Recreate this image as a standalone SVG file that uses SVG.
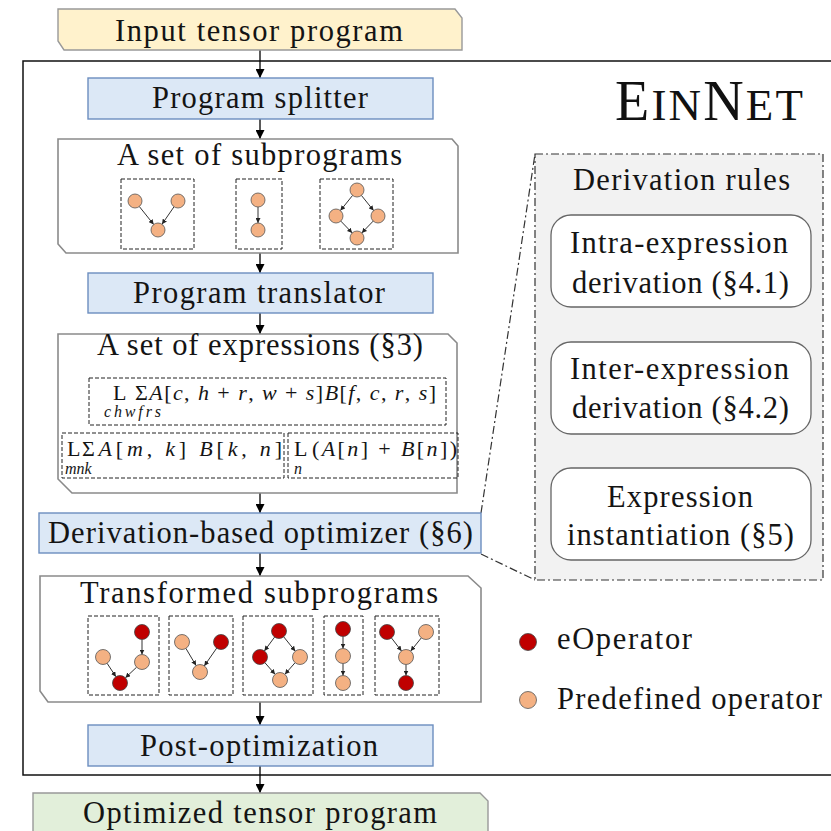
<svg xmlns="http://www.w3.org/2000/svg" width="831" height="831" viewBox="0 0 831 831" font-family="Liberation Serif, serif">
<style>
.t{font-size:30.5px;fill:#141414}
.m{font-size:22px;fill:#141414}
.ms{font-size:16px;font-style:italic;fill:#141414}
.i{font-style:italic}
.cont{fill:#fff;stroke:#8a8a8a;stroke-width:1.6}
.blue{fill:#dce8f6;stroke:#6c8ebf;stroke-width:1.4}
.dash{fill:none;stroke:#222;stroke-width:1;stroke-dasharray:4 2}
.po{fill:#f4b183;stroke:#555;stroke-width:0.8}
.eo{fill:#c00000;stroke:#444;stroke-width:0.8}
.e{stroke:#333;stroke-width:1;fill:none;marker-end:url(#sa)}
.flow{stroke:#000;stroke-width:1.3;fill:none;marker-end:url(#ba)}
.dd{stroke:#333;stroke-width:1.2;fill:none;stroke-dasharray:8 3 2 3}
.rule{fill:#fff;stroke:#666;stroke-width:1.3}
</style>
<defs>
<marker id="ba" viewBox="0 0 10 10" refX="10" refY="5" markerWidth="9" markerHeight="9" markerUnits="userSpaceOnUse" orient="auto"><path d="M0,0 L10,5 L0,10 z" fill="#000"/></marker>
<marker id="sa" viewBox="0 0 10 10" refX="10" refY="5" markerWidth="5" markerHeight="5" markerUnits="userSpaceOnUse" orient="auto"><path d="M0,0 L10,5 L0,10 z" fill="#222"/></marker>
</defs>

<g id="frame"><rect x="23" y="61" width="830" height="714" fill="none" stroke="#111" stroke-width="1.5"/></g>

<g id="einnet"><text x="615" y="120" font-family="Liberation Serif, serif" fill="#111" textLength="188"><tspan font-size="56">E</tspan><tspan font-size="45">IN</tspan><tspan font-size="56">N</tspan><tspan font-size="45">ET</tspan></text></g>

<g id="connectors">
<line class="flow" x1="260" y1="50" x2="260" y2="78"/>
<line class="flow" x1="260" y1="119" x2="260" y2="139"/>
<line class="flow" x1="260" y1="253" x2="260" y2="273"/>
<line class="flow" x1="260" y1="313" x2="260" y2="334"/>
<line class="flow" x1="260" y1="493" x2="260" y2="513"/>
<line class="flow" x1="260" y1="553" x2="260" y2="576"/>
<line class="flow" x1="260" y1="702" x2="260" y2="725"/>
<line class="flow" x1="260" y1="766" x2="260" y2="793"/>
<line class="dd" x1="481" y1="513" x2="535" y2="154"/>
<line class="dd" x1="481" y1="554" x2="535" y2="580"/>
</g>

<g id="input">
<polygon points="58,9 455,9 462,18 462,50 64,50 58,41" fill="#fff2cc" stroke="#999" stroke-width="1.4"/>
<text class="t" x="115" y="41" textLength="288">Input tensor program</text>
</g>

<g id="splitter">
<rect class="blue" x="88" y="78" width="345" height="41"/>
<text class="t" x="152" y="108" textLength="216">Program splitter</text>
</g>

<g id="subprograms">
<polygon class="cont" points="58,139 452,139 458,146 458,253 66,253 58,244"/>
<text class="t" x="117" y="165" textLength="285">A set of subprograms</text>
<rect class="dash" x="121" y="179" width="73" height="70"/>
<rect class="dash" x="236" y="179" width="46" height="70"/>
<rect class="dash" x="320" y="179" width="73" height="70"/>
<line class="e" x1="139.3" y1="206.5" x2="153.7" y2="224.5"/>
<line class="e" x1="174" y1="206.8" x2="162" y2="224.2"/>
<line class="e" x1="258" y1="207" x2="258" y2="223"/>
<line class="e" x1="352.6" y1="195.4" x2="340.4" y2="210.6"/>
<line class="e" x1="361.4" y1="195.4" x2="373.6" y2="210.6"/>
<line class="e" x1="340.8" y1="221.1" x2="352.2" y2="232.9"/>
<line class="e" x1="373.2" y1="221.1" x2="361.8" y2="232.9"/>
<circle class="po" cx="135" cy="201" r="7"/>
<circle class="po" cx="178" cy="201" r="7"/>
<circle class="po" cx="158" cy="230" r="7"/>
<circle class="po" cx="258" cy="200" r="7"/>
<circle class="po" cx="258" cy="230" r="7"/>
<circle class="po" cx="357" cy="190" r="7"/>
<circle class="po" cx="336" cy="216" r="7"/>
<circle class="po" cx="378" cy="216" r="7"/>
<circle class="po" cx="357" cy="238" r="7"/>
</g>

<g id="translator">
<rect class="blue" x="88" y="273" width="345" height="40"/>
<text class="t" x="133" y="303" textLength="252">Program translator</text>
</g>

<g id="expressions">
<polygon class="cont" points="58,334 448,334 457,343 457,493 72,493 58,479"/>
<text class="t" x="97" y="355" textLength="326">A set of expressions (§3)</text>
<rect class="dash" x="89" y="378" width="357" height="47"/>
<rect class="dash" x="62" y="433" width="222" height="45"/>
<rect class="dash" x="288" y="433" width="170" height="45"/>
<text class="m" x="113" y="400">L</text>
<text class="m" x="135" y="400" textLength="301">Σ<tspan class="i">A</tspan>[<tspan class="i">c</tspan>, <tspan class="i">h</tspan> + <tspan class="i">r</tspan>, <tspan class="i">w</tspan> + <tspan class="i">s</tspan>]<tspan class="i">B</tspan>[<tspan class="i">f</tspan>, <tspan class="i">c</tspan>, <tspan class="i">r</tspan>, <tspan class="i">s</tspan>]</text>
<text class="ms" x="104" y="417" textLength="57">chwfrs</text>
<text class="m" x="67" y="456">L</text>
<text class="m" x="82" y="456" textLength="200">Σ<tspan class="i">A</tspan>[<tspan class="i">m</tspan>, <tspan class="i">k</tspan>] <tspan class="i">B</tspan>[<tspan class="i">k</tspan>, <tspan class="i">n</tspan>]</text>
<text class="ms" x="65" y="474" font-size="17">mnk</text>
<text class="m" x="294" y="456">L</text>
<text class="m" x="312" y="456" textLength="145">(<tspan class="i">A</tspan>[<tspan class="i">n</tspan>] + <tspan class="i">B</tspan>[<tspan class="i">n</tspan>])</text>
<text class="ms" x="294" y="474">n</text>
</g>

<g id="optimizer">
<rect class="blue" x="39" y="513" width="442" height="40"/>
<text class="t" x="48" y="543" textLength="425">Derivation-based optimizer (§6)</text>
</g>

<g id="transformed">
<polygon class="cont" points="40,576 468,576 481,588 481,702 48,702 40,691"/>
<text class="t" x="80" y="603" textLength="358">Transformed subprograms</text>
<rect class="dash" x="88" y="616" width="71" height="79"/>
<rect class="dash" x="169" y="616" width="64" height="79"/>
<rect class="dash" x="243" y="616" width="70" height="79"/>
<rect class="dash" x="324" y="616" width="39" height="79"/>
<rect class="dash" x="375" y="616" width="64" height="79"/>
<line class="e" x1="142" y1="639.5" x2="142" y2="654.5"/>
<line class="e" x1="107.1" y1="663.3" x2="115.9" y2="676.7"/>
<line class="e" x1="136.6" y1="667.2" x2="125.4" y2="677.8"/>
<line class="e" x1="185.9" y1="648.4" x2="196.1" y2="665.6"/>
<line class="e" x1="216.7" y1="648.1" x2="204.3" y2="665.9"/>
<line class="e" x1="274.6" y1="637.1" x2="264.4" y2="650.9"/>
<line class="e" x1="283.7" y1="636.8" x2="295.3" y2="651.2"/>
<line class="e" x1="264.9" y1="662.7" x2="275.1" y2="674.3"/>
<line class="e" x1="295.1" y1="662.7" x2="284.9" y2="674.3"/>
<line class="e" x1="343" y1="636.5" x2="343" y2="648.5"/>
<line class="e" x1="343" y1="663.5" x2="343" y2="675.5"/>
<line class="e" x1="391.5" y1="638" x2="401.5" y2="651"/>
<line class="e" x1="421.3" y1="637.9" x2="410.7" y2="651.1"/>
<line class="e" x1="406" y1="664.5" x2="406" y2="675.5"/>
<circle class="eo" cx="142" cy="632" r="7.5"/>
<circle class="po" cx="142" cy="662" r="7.5"/>
<circle class="po" cx="103" cy="657" r="7.5"/>
<circle class="eo" cx="120" cy="683" r="7.5"/>
<circle class="po" cx="182" cy="642" r="7.5"/>
<circle class="eo" cx="221" cy="642" r="7.5"/>
<circle class="po" cx="200" cy="672" r="7.5"/>
<circle class="eo" cx="279" cy="631" r="7.5"/>
<circle class="eo" cx="260" cy="657" r="7.5"/>
<circle class="po" cx="300" cy="657" r="7.5"/>
<circle class="po" cx="280" cy="680" r="7.5"/>
<circle class="eo" cx="343" cy="629" r="7.5"/>
<circle class="po" cx="343" cy="656" r="7.5"/>
<circle class="po" cx="343" cy="683" r="7.5"/>
<circle class="eo" cx="387" cy="632" r="7.5"/>
<circle class="po" cx="426" cy="632" r="7.5"/>
<circle class="po" cx="406" cy="657" r="7.5"/>
<circle class="eo" cx="406" cy="683" r="7.5"/>
</g>

<g id="postopt">
<rect class="blue" x="88" y="725" width="345" height="41"/>
<text class="t" x="140" y="756" textLength="238">Post-optimization</text>
</g>

<g id="output">
<polygon points="33,793 480,793 488,801 488,840 33,840" fill="#e2efda" stroke="#999" stroke-width="1.4"/>
<text class="t" x="83" y="823" textLength="354">Optimized tensor program</text>
</g>

<g id="rules">
<rect x="535" y="154" width="288" height="426" fill="#f2f2f2" stroke="#333" stroke-width="1.2" stroke-dasharray="8 3 2 3"/>
<text class="t" x="573" y="190" textLength="217">Derivation rules</text>
</g>

<g id="intra">
<rect class="rule" x="551" y="215" width="260" height="92" rx="20"/>
<text class="t" x="570" y="253" textLength="218">Intra-expression</text>
<text class="t" x="572" y="293" textLength="217">derivation (§4.1)</text>
</g>

<g id="inter">
<rect class="rule" x="551" y="342" width="260" height="92" rx="20"/>
<text class="t" x="570" y="379" textLength="219">Inter-expression</text>
<text class="t" x="572" y="418" textLength="217">derivation (§4.2)</text>
</g>

<g id="instantiation">
<rect class="rule" x="551" y="468" width="260" height="92" rx="20"/>
<text class="t" x="607" y="507" textLength="146">Expression</text>
<text class="t" x="567" y="545" textLength="227">instantiation (§5)</text>
</g>

<g id="legend">
<circle class="eo" cx="528" cy="642" r="8.5"/>
<text class="t" x="557" y="649" textLength="135">eOperator</text>
<circle class="po" cx="528" cy="700" r="8.5"/>
<text class="t" x="557" y="709" textLength="265">Predefined operator</text>
</g>
</svg>
